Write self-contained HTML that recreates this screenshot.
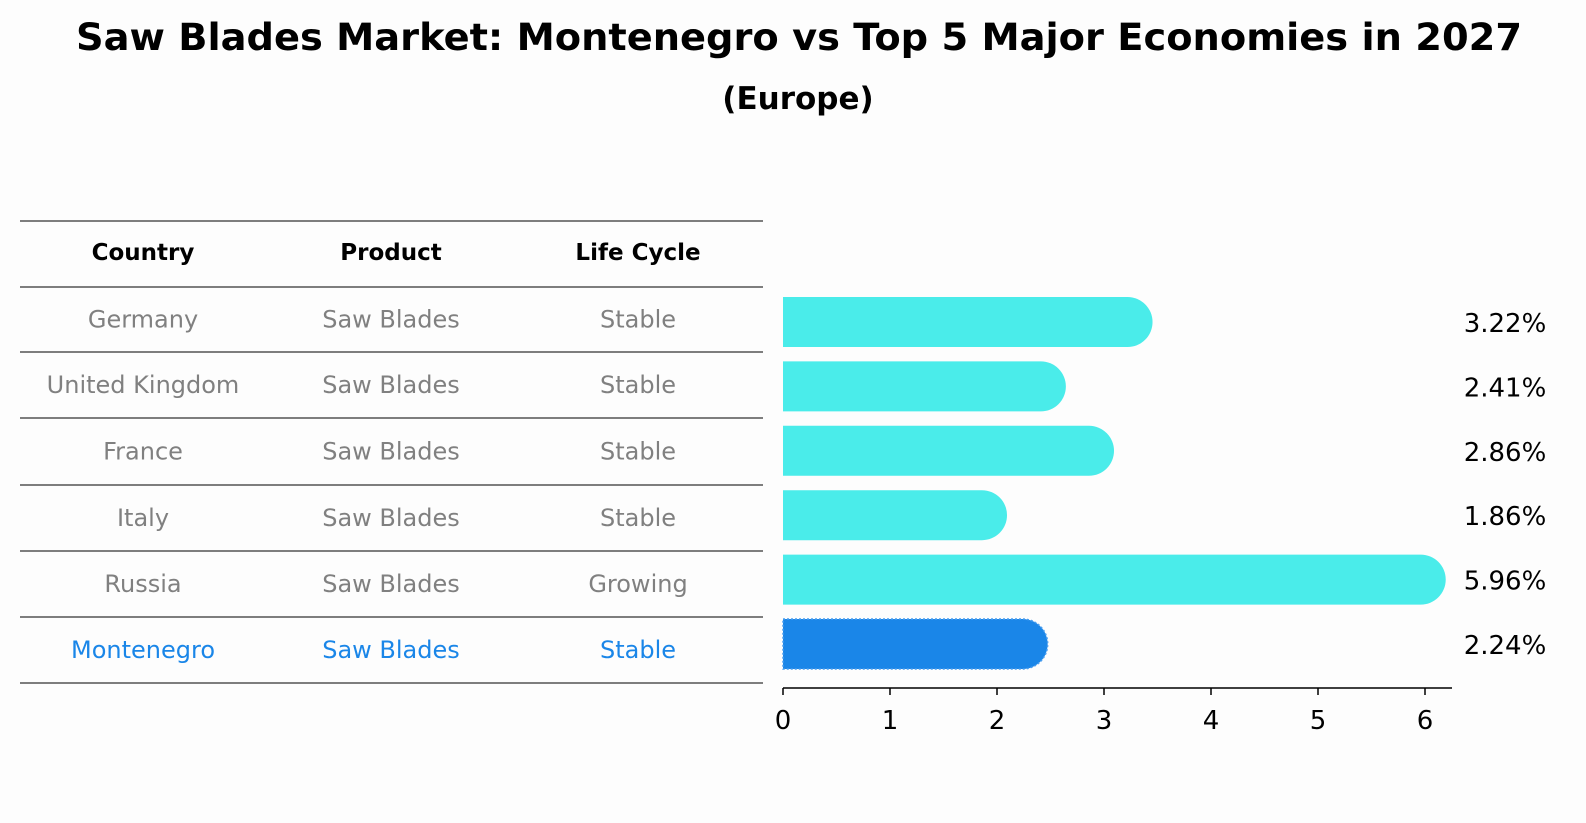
<!DOCTYPE html>
<html><head><meta charset="utf-8"><style>
body{margin:0;background:#fdfdfd;font-family:"Liberation Sans","DejaVu Sans",sans-serif;}
#c{position:relative;width:1586px;height:823px;overflow:hidden;}
</style></head><body>
<div id="c">
<svg width="1586" height="823" xmlns="http://www.w3.org/2000/svg" style="font-family:'DejaVu Sans','Liberation Sans',sans-serif">
<text x="799" y="50" text-anchor="middle" font-size="37" font-weight="bold" textLength="1446" lengthAdjust="spacingAndGlyphs">Saw Blades Market: Montenegro vs Top 5 Major Economies in 2027</text>
<text x="798" y="109" text-anchor="middle" font-size="31" font-weight="bold">(Europe)</text>
<g id="table"></g>
<g id="bars"></g>
</svg>
</div>
<script>
const countries=["Germany","United Kingdom","France","Italy","Russia","Montenegro"];
const products=["Saw Blades","Saw Blades","Saw Blades","Saw Blades","Saw Blades","Saw Blades"];
const lifeCycles=["Stable","Stable","Stable","Stable","Growing","Stable"];
const values=[3.22,2.41,2.86,1.86,5.96,2.24];
const tickLabels=[0,1,2,3,4,5,6];
const NS="http://www.w3.org/2000/svg";
function mk(tag,attrs,parent,text){const e=document.createElementNS(NS,tag);for(const k in attrs)e.setAttribute(k,attrs[k]);if(text!==undefined)e.textContent=text;parent.appendChild(e);return e;}
const x=v=>783+v*107;
const rowY=i=>322+i*64.4;
const tbl=document.getElementById('table');
const lines=[221,287,352,418,485,551,617,683];
lines.forEach(y=>{const l=mk('line',{x1:20,x2:763,y1:y,y2:y,stroke:'#000','stroke-width':1},tbl);

});
const cols=[143,391,638];
["Country","Product","Life Cycle"].forEach((h,j)=>{const t=mk('text',{x:cols[j],y:260,'text-anchor':'middle','font-size':23,'font-weight':'bold'},tbl,h);

});
countries.forEach((c,i)=>{const cy=(lines[i+1]+lines[i+2])/2+8;const col=i===countries.length-1?'#1a86e8':'#808080';
[c,products[i],lifeCycles[i]].forEach((v,j)=>{const t=mk('text',{x:cols[j],y:cy,'text-anchor':'middle','font-size':24,fill:col},tbl,v);

});});
const g=document.getElementById('bars');
values.forEach((v,i)=>{const cy=rowY(i);const last=i===values.length-1;const col=last?'#1a86e8':'#4aecea';
const attrs={d:`M${x(0)},${cy-25} H${x(v)} A25,25 0 0 1 ${x(v)},${cy+25} H${x(0)} Z`,fill:col};
if(last){attrs.stroke='#4a9ef0';attrs['stroke-width']=1.5;attrs['stroke-dasharray']='2,2';}
const p=mk('path',attrs,g);


const t=mk('text',{x:1505,y:cy+10,'text-anchor':'middle','font-size':26},g,v.toFixed(2)+'%');

});
const ax=mk('line',{x1:783,x2:1452,y1:688,y2:688,stroke:'#000','stroke-width':1.5},g);


tickLabels.forEach(v=>{const tk=mk('line',{x1:x(v),x2:x(v),y1:688,y2:695,stroke:'#000','stroke-width':1.5},g);


const t=mk('text',{x:x(v),y:729,'text-anchor':'middle','font-size':26},g,String(v));

});
</script>
</body></html>
